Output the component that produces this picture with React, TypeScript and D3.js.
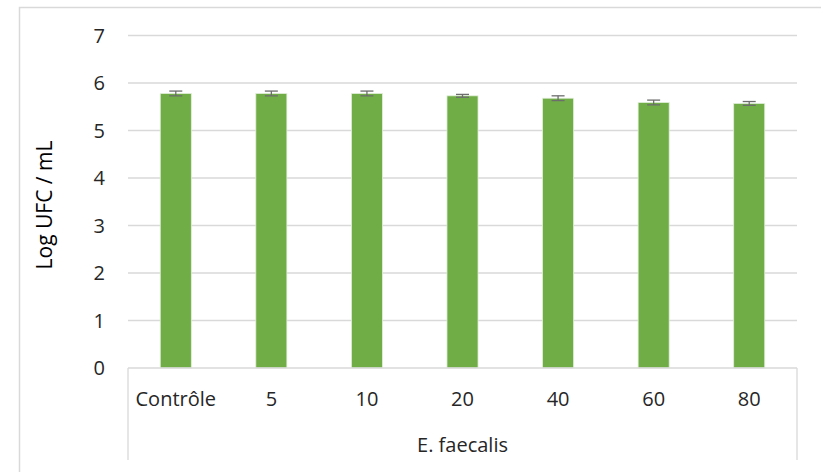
import React from "react";
import * as d3 from "d3";

const categories = ["Contrôle", "5", "10", "20", "40", "60", "80"];
const values = [5.78, 5.78, 5.78, 5.73, 5.68, 5.59, 5.57];
const errors = [0.05, 0.05, 0.05, 0.03, 0.05, 0.05, 0.04];
const yTicks = [0, 1, 2, 3, 4, 5, 6, 7];
const groupLabel = "E. faecalis";
const yTitle = "Log UFC / mL";

const W = 821;
const H = 472;
const plot = { left: 128, right: 797, top: 35.5, bottom: 368 };
const FONT = "'Open Sans', sans-serif";

export default function App() {
  const x = d3
    .scaleBand<string>()
    .domain(categories)
    .range([plot.left, plot.right])
    .paddingInner(0.675)
    .paddingOuter(0.3375);
  const y = d3.scaleLinear().domain([0, 7]).range([plot.bottom, plot.top]);
  const bw = x.bandwidth();
  const capW = 13;

  return (
    <svg
      width={W}
      height={H}
      style={{ position: "absolute", left: 0, top: 0, background: "#fff" }}
    >
      <rect x={0} y={0} width={W} height={H} fill="#fff" />
      {/* outer chart border */}
      <rect x={19.5} y={7.5} width={W} height={H} fill="none" stroke="#d9d9d9" strokeWidth={1.5} />

      {/* gridlines */}
      {yTicks.map((t) =>
        t === 0 ? null : (
          <line
            key={t}
            x1={plot.left}
            x2={plot.right}
            y1={y(t)}
            y2={y(t)}
            stroke="#d9d9d9"
            strokeWidth={1.3}
          />
        )
      )}

      {/* y tick labels */}
      {yTicks.map((t) => (
        <text
          key={"yl" + t}
          x={105}
          y={y(t)}
          dy="0.36em"
          textAnchor="end"
          fontFamily={FONT}
          fontSize={20}
          fill="#262626"
        >
          {t}
        </text>
      ))}

      {/* bars */}
      {categories.map((c, i) => (
        <rect
          key={"b" + c}
          x={x(c)!}
          y={y(values[i])}
          width={bw}
          height={y(0) - y(values[i])}
          fill="#70ad47"
          stroke="#e2efda"
          strokeWidth={0.8}
        />
      ))}

      {/* error bars */}
      {categories.map((c, i) => {
        const cx = x(c)! + bw / 2;
        const y1 = y(values[i] + errors[i]);
        const y2 = y(values[i] - errors[i]);
        return (
          <g key={"e" + c} stroke="#6d6d6d" strokeWidth={1.3}>
            <line x1={cx} x2={cx} y1={y1} y2={y2} />
            <line x1={cx - capW / 2} x2={cx + capW / 2} y1={y1} y2={y1} />
            <line x1={cx - capW / 2} x2={cx + capW / 2} y1={y2} y2={y2} />
          </g>
        );
      })}

      {/* category axis line and group box */}
      <line x1={plot.left} x2={plot.right} y1={plot.bottom} y2={plot.bottom} stroke="#d9d9d9" strokeWidth={1.3} />
      <line x1={plot.left} x2={plot.left} y1={plot.bottom} y2={460} stroke="#d9d9d9" strokeWidth={1.3} />
      <line x1={plot.right} x2={plot.right} y1={plot.bottom} y2={460} stroke="#d9d9d9" strokeWidth={1.3} />

      {/* category labels */}
      {categories.map((c) => (
        <text
          key={"cl" + c}
          x={x(c)! + bw / 2}
          y={406}
          textAnchor="middle"
          fontFamily={FONT}
          fontSize={20}
          fill="#262626"
        >
          {c}
        </text>
      ))}

      {/* group label */}
      <text
        x={(plot.left + plot.right) / 2}
        y={452}
        textAnchor="middle"
        fontFamily={FONT}
        fontSize={20}
        fill="#262626"
      >
        {groupLabel}
      </text>

      {/* y axis title */}
      <text
        transform={`translate(52, ${205}) rotate(-90)`}
        textAnchor="middle"
        fontFamily={FONT}
        fontSize={21}
        fill="#000"
      >
        {yTitle}
      </text>
    </svg>
  );
}
